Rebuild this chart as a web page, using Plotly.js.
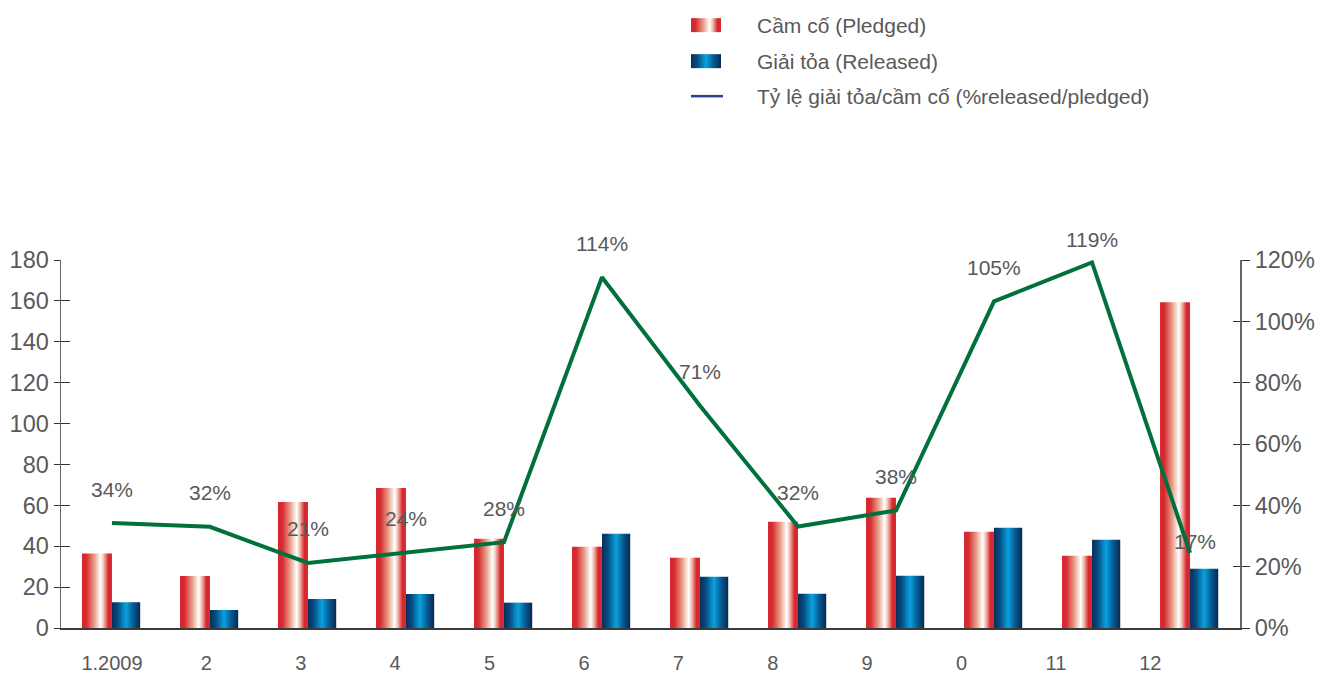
<!DOCTYPE html>
<html>
<head>
<meta charset="utf-8">
<script src="https://cdn.plot.ly/plotly-3.0.1.min.js"></script>
<style>
  html, body { margin: 0; padding: 0; background: #ffffff; }
  #chart { width: 1330px; height: 675px; }
</style>
</head>
<body>
<div id="chart"></div>
<script>
const months = ["1.2009", "2", "3", "4", "5", "6", "7", "8", "9", "0", "11", "12"];
const pledged = [36.5, 25.4, 61.6, 68.5, 43.7, 39.8, 34.4, 52.0, 63.7, 47.1, 35.4, 159.3];
const released = [12.6, 8.8, 14.2, 16.6, 12.4, 46.1, 25.1, 16.8, 25.6, 49.0, 43.2, 29.0];
const ratio = [34.2, 33.0, 21.2, 24.6, 28.0, 114.4, 72.5, 33.1, 38.3, 106.5, 119.2, 24.5];
const ratioLabels = ["34%", "32%", "21%", "24%", "28%", "114%", "71%", "32%", "38%", "105%", "119%", "17%"];

const seriesNames = ["Cầm cố (Pledged)", "Giải tỏa (Released)", "Tỷ lệ giải tỏa/cầm cố (%released/pledged)"];

const FONT = "Liberation Sans, Arial, sans-serif";
const GREY = "#595959";
const idx = months.map((_, i) => i);
const blanks = months.map(() => null);

const traces = [
  {
    type: "bar", x: idx, y: pledged, name: seriesNames[0], legend: "legend",
    offset: -0.306, width: 0.306,
    marker: { color: "#d7282f", line: { width: 0 } },
  },
  {
    type: "bar", x: idx, y: released, name: seriesNames[1], legend: "legend2",
    offset: 0, width: 0.288,
    marker: { color: "#0a5a92", line: { width: 0 } },
  },
  {
    type: "scatter", mode: "lines", x: idx, y: ratio, yaxis: "y2", name: seriesNames[2], legend: "legend3",
    line: { color: "#00703c", width: 4 },
  },
  // empty carriers so the helper axes (labels, inner tick halves) get drawn
  { type: "scatter", mode: "lines", x: idx, y: blanks, xaxis: "x2", yaxis: "y", showlegend: false },
  { type: "scatter", mode: "lines", x: idx, y: blanks, yaxis: "y3", showlegend: false },
  { type: "scatter", mode: "lines", x: idx, y: blanks, yaxis: "y4", showlegend: false },
];

// label nudges [dx, dy] for the crowded points, default sits ~34px above the vertex
const labelNudge = { 10: [0, 23], 11: [5, 11] };
const annotations = ratioLabels.map((text, i) => ({
  x: i, y: ratio[i], xref: "x", yref: "y2", text,
  showarrow: false,
  xshift: (labelNudge[i] || [0, 34])[0],
  yshift: (labelNudge[i] || [0, 34])[1],
  font: { family: FONT, size: 21, color: GREY },
}));

function legendAt(top) {
  return {
    xref: "container", yref: "container",
    x: 681 / 1330, y: 1 - top / 675, xanchor: "left", yanchor: "top",
    bgcolor: "rgba(0,0,0,0)", borderwidth: 0, itemwidth: 66,
    font: { family: FONT, size: 21, color: GREY },
  };
}

const hiddenAxis = { showgrid: false, zeroline: false, showline: false, showticklabels: false };

const layout = {
  width: 1330, height: 675,
  margin: { l: 61, r: 90, t: 260, b: 47, autoexpand: false },
  paper_bgcolor: "#ffffff", plot_bgcolor: "#ffffff",
  font: { family: FONT, size: 20, color: GREY },
  barmode: "overlay",
  hovermode: false,
  showlegend: true,
  legend: legendAt(5),
  legend2: legendAt(41),
  legend3: legendAt(76),
  xaxis: {
    range: [-0.52, 11.51], ticks: "", showticklabels: false,
    showgrid: false, zeroline: false,
    showline: true, linecolor: "#3a3a3a", linewidth: 1.5,
  },
  // tick labels sit on a slightly tighter pitch than the bar groups
  xaxis2: {
    overlaying: "x", anchor: "y", side: "bottom",
    range: [-0.54, 11.95], tickvals: idx, ticktext: months, ticks: "",
    showgrid: false, zeroline: false, showline: false,
    tickfont: { family: FONT, size: 20, color: GREY },
    ticklabelstandoff: 21,
  },
  yaxis: {
    range: [0, 180], dtick: 20, ticks: "outside", ticklen: 6, tickcolor: "#333333",
    showline: true, linecolor: "#666666", linewidth: 1.5,
    showgrid: false, zeroline: false,
    tickfont: { family: FONT, size: 23.5, color: GREY },
  },
  yaxis2: {
    overlaying: "y", side: "right", anchor: "x",
    range: [0, 120], dtick: 20, ticksuffix: "%", ticks: "outside", ticklen: 8, tickcolor: "#333333",
    showline: true, linecolor: "#666666", linewidth: 2,
    showgrid: false, zeroline: false,
    tickfont: { family: FONT, size: 23.5, color: GREY },
  },
  yaxis3: Object.assign({ overlaying: "y", side: "left", anchor: "x", range: [0, 180], dtick: 20,
    ticks: "inside", ticklen: 9, tickcolor: "#333333" }, hiddenAxis),
  yaxis4: Object.assign({ overlaying: "y", side: "right", anchor: "x", range: [0, 120], dtick: 20,
    ticks: "inside", ticklen: 7, tickcolor: "#333333" }, hiddenAxis),
  annotations,
};

function addGradients(svg) {
  if (document.getElementById("gradPledged")) return;
  const ns = "http://www.w3.org/2000/svg";
  const defs = document.createElementNS(ns, "defs");
  const grads = {
    gradPledged: [[0, "#d7282f"], [0.14, "#d7282f"], [0.4, "#e69a84"], [0.62, "#ffffff"], [0.72, "#f2c2b4"], [0.88, "#d7282f"], [1, "#d7282f"]],
    gradReleased: [[0, "#0b2d5a"], [0.2, "#064a80"], [0.5, "#0aa2de"], [0.75, "#055a92"], [1, "#0a2850"]],
  };
  for (const [id, stops] of Object.entries(grads)) {
    const g = document.createElementNS(ns, "linearGradient");
    g.setAttribute("id", id);
    g.setAttribute("x1", "0"); g.setAttribute("x2", "1");
    g.setAttribute("y1", "0"); g.setAttribute("y2", "0");
    for (const [off, col] of stops) {
      const s = document.createElementNS(ns, "stop");
      s.setAttribute("offset", off);
      s.setAttribute("stop-color", col);
      g.appendChild(s);
    }
    defs.appendChild(g);
  }
  svg.appendChild(defs);
}

function dress(gd) {
  addGradients(gd.querySelector("svg.main-svg"));

  const barTraces = gd.querySelectorAll(".barlayer .trace");
  ["gradPledged", "gradReleased"].forEach((id, k) => {
    if (!barTraces[k]) return;
    barTraces[k].querySelectorAll("path").forEach((p) => { p.style.fill = `url(#${id})`; });
  });

  // legend swatches: wide gradient bars and a thin blue line, 66px left of the text
  gd.querySelectorAll("g.traces").forEach((item) => {
    const label = item.querySelector("text");
    if (!label) return;
    const name = label.textContent;
    const isLine = name === seriesNames[2];
    const sym = item.querySelector(isLine ? ".legendlines path" : ".legendpoints path");
    if (!sym) return;
    const textLeft = label.getBoundingClientRect().left;
    const box = sym.getBBox();
    const rect = sym.getBoundingClientRect();
    const ox = rect.left - box.x;
    const cy = box.y + box.height / 2;
    const x0 = textLeft - 66 - ox;
    if (isLine) {
      sym.setAttribute("d", `M${x0},${cy}h32`);
      sym.style.stroke = "#2b3f94";
      sym.style.strokeWidth = "2.5px";
    } else {
      sym.setAttribute("d", `M${x0},${cy - 7}h30v14h-30Z`);
      sym.style.fill = `url(#${name === seriesNames[0] ? "gradPledged" : "gradReleased"})`;
      sym.style.strokeWidth = "0";
    }
  });
}

const gd = document.getElementById("chart");
Plotly.newPlot(gd, traces, layout, { staticPlot: true, displayModeBar: false })
  .then(() => {
    dress(gd);
    gd.on("plotly_afterplot", () => dress(gd));
  });
</script>
</body>
</html>
